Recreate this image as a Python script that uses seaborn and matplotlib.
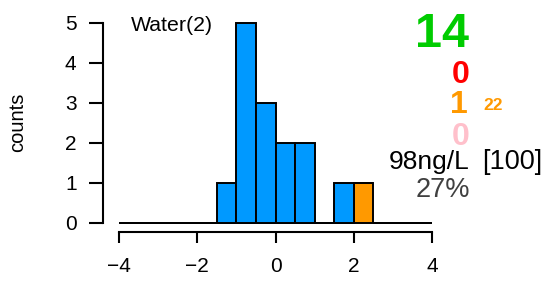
import numpy as np
import pandas as pd
import matplotlib
matplotlib.use("Agg")
import matplotlib.pyplot as plt
import seaborn as sns

# histogram data (bin width 0.5 from -4 to 4)
bin_edges = list(np.arange(-4, 4.5, 0.5))
blue_counts = [0, 0, 0, 0, 0, 1, 5, 3, 2, 2, 0, 1, 0, 0, 0, 0]
orange_counts = [0, 0, 0, 0, 0, 0, 0, 0, 0, 0, 0, 0, 1, 0, 0, 0]

x_ticks = [-4, -2, 0, 2, 4]
y_ticks = [0, 1, 2, 3, 4, 5]

title = "Water(2)"
n_total = "14"
n_red = "0"
n_orange = "1"
n_orange_note = "22"
n_pink = "0"
conc_text = "98ng/L"
conc_ref = "[100]"
pct_text = "27%"

edges = np.array(bin_edges)
centers = (edges[:-1] + edges[1:]) / 2
df = pd.DataFrame({
    "x": np.concatenate([centers, centers]),
    "n": blue_counts + orange_counts,
    "grp": ["blue"] * len(centers) + ["orange"] * len(centers),
})

sns.set_style("ticks", {"axes.edgecolor": "black", "text.color": "black",
                        "xtick.color": "black", "ytick.color": "black"})
plt.rcParams["font.family"] = ["Liberation Sans", "DejaVu Sans"]

W, H = 557, 289
fig = plt.figure(figsize=(W / 100, H / 100), dpi=100)
ax = fig.add_axes([103 / W, 57 / H, 342 / W, 212 / H])

sns.histplot(data=df, x="x", weights="n", hue="grp", bins=bin_edges,
             multiple="stack", hue_order=["blue", "orange"],
             palette={"blue": "#0099FF", "orange": "#FF9900"},
             edgecolor="black", linewidth=1.4, alpha=1, legend=False, ax=ax)

ax.set_xlim(-4.409, 4.332)
ax.set_ylim(-0.225, 5.075)
ax.set_xticks(x_ticks)
ax.set_yticks(y_ticks)
ax.set_xlabel("")
ax.set_ylabel("")
sns.despine(ax=ax)
ax.spines["left"].set_bounds(0, 5)
ax.spines["bottom"].set_bounds(-4, 4)
for s in ["left", "bottom"]:
    ax.spines[s].set_linewidth(1.5)
ax.tick_params(axis="x", length=8, width=1.5, pad=10, labelsize=15,
               colors="black")
ax.tick_params(axis="y", length=10, width=1.5, pad=9, labelsize=15,
               colors="black")

def px(x, y):
    return x / W, 1 - y / H

fig.text(*px(18, 122), "counts", rotation=90, ha="center", va="center",
         fontsize=14.5, color="black")
fig.text(*px(131, 31), title, ha="left", va="baseline", fontsize=15.3,
         color="black")
fig.text(*px(469, 47), n_total, ha="right", va="baseline", fontsize=35,
         fontweight="bold", color="#00CC00")
fig.text(*px(470, 83), n_red, ha="right", va="baseline", fontsize=23,
         fontweight="bold", color="#FF0000")
fig.text(*px(468, 113), n_orange, ha="right", va="baseline", fontsize=23,
         fontweight="bold", color="#FF9900")
fig.text(*px(483, 110), n_orange_note, ha="left", va="baseline", fontsize=12.5,
         fontweight="bold", color="#FF9900")
fig.text(*px(470, 145), n_pink, ha="right", va="baseline", fontsize=23,
         fontweight="bold", color="#FFC0CB")
fig.text(*px(470, 169), conc_text, ha="right", va="baseline", fontsize=19,
         color="black")
fig.text(*px(482, 169), conc_ref, ha="left", va="baseline", fontsize=19.5,
         color="black")
fig.text(*px(470, 197), pct_text, ha="right", va="baseline", fontsize=19.5,
         color="#404040")

fig.savefig("out.png", dpi=100)
